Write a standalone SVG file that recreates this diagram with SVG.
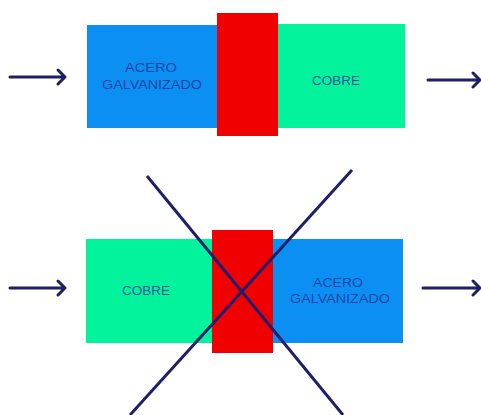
<svg xmlns="http://www.w3.org/2000/svg" width="481" height="415" viewBox="0 0 481 415">
<defs>
<style>
.blue{fill:#0b8ff2}
.green{fill:#02f39b}
.red{fill:#f00000}
.lbl{font-family:"Liberation Sans",Arial,sans-serif;font-size:12px;fill:#22369a;fill-opacity:0.85;text-anchor:middle}
.arr{stroke:#1d1f63;stroke-width:3;fill:none;stroke-linecap:round;stroke-linejoin:round}
.cross{stroke:#1d1f6b;stroke-width:3;fill:none}
</style>
</defs>
<rect width="481" height="415" fill="#ffffff"/>
<g id="top-acero">
<rect class="blue" x="87" y="25" width="131" height="103"/>
<text class="lbl" x="151" y="72" textLength="52" lengthAdjust="spacingAndGlyphs">ACERO</text>
<text class="lbl" x="152" y="89" textLength="100" lengthAdjust="spacingAndGlyphs">GALVANIZADO</text>
</g>
<g id="top-cobre">
<rect class="green" x="277" y="24" width="128" height="104"/>
<text class="lbl" x="336" y="85" textLength="48" lengthAdjust="spacingAndGlyphs">COBRE</text>
</g>
<g id="top-union">
<rect class="red" x="217" y="13" width="61" height="123"/>
</g>
<g id="bottom-cobre">
<rect class="green" x="86" y="239" width="127" height="104"/>
<text class="lbl" x="146" y="295" textLength="48" lengthAdjust="spacingAndGlyphs">COBRE</text>
</g>
<g id="bottom-acero">
<rect class="blue" x="273" y="239" width="130" height="104"/>
<text class="lbl" x="338" y="287" textLength="50" lengthAdjust="spacingAndGlyphs">ACERO</text>
<text class="lbl" x="340" y="303" textLength="100" lengthAdjust="spacingAndGlyphs">GALVANIZADO</text>
</g>
<g id="bottom-union">
<rect class="red" x="212" y="230" width="61" height="123"/>
</g>
<g id="connectors">
<path class="arr" d="M10 77 H65 M58 70 L65 77 L58 84"/>
<path class="arr" d="M428 80 H480 M473 73 L480 80 L473 87"/>
<path class="arr" d="M10 288 H65 M58 281 L65 288 L58 295"/>
<path class="arr" d="M423 288 H480 M473 281 L480 288 L473 295"/>
<line class="cross" x1="147" y1="176" x2="343" y2="415"/>
<line class="cross" x1="352" y1="170" x2="130" y2="415"/>
</g>
</svg>
